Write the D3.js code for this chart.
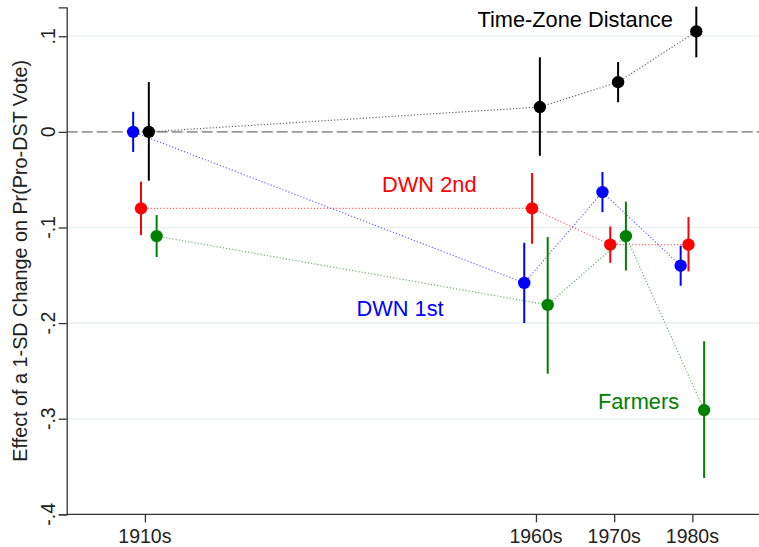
<!DOCTYPE html>
<html>
<head>
<meta charset="utf-8">
<script src="https://cdn.jsdelivr.net/npm/d3@7"></script>
<style>
  body { margin: 0; background: #fff; }
  svg { display: block; font-family: "Liberation Sans", Arial, Helvetica, sans-serif; }
</style>
</head>
<body>
<svg id="chart" width="759" height="547"></svg>
<script>
// decades on the x axis
const decades = [1910, 1960, 1970, 1980];
const decadeLabels = ["1910s", "1960s", "1970s", "1980s"];
const yTicks = [0.1, 0, -0.1, -0.2, -0.3, -0.4];
const yTickLabels = [".1", "0", "-.1", "-.2", "-.3", "-.4"];

// estimates and 95% bounds
const dwn1Est = [0, -0.158, -0.063, -0.140];
const dwn1Lo  = [-0.021, -0.200, -0.084, -0.161];
const dwn1Hi  = [0.021, -0.116, -0.042, -0.119];

const dwn2Est = [-0.080, -0.080, -0.118, -0.118];
const dwn2Lo  = [-0.108, -0.117, -0.137, -0.146];
const dwn2Hi  = [-0.052, -0.043, -0.099, -0.089];

const tzdEst = [0, 0.026, 0.052, 0.105];
const tzdLo  = [-0.051, -0.025, 0.031, 0.078];
const tzdHi  = [0.052, 0.078, 0.073, 0.131];

const farmEst = [-0.109, -0.181, -0.109, -0.291];
const farmLo  = [-0.131, -0.253, -0.145, -0.362];
const farmHi  = [-0.087, -0.110, -0.073, -0.219];

// series names, colours, horizontal offsets (years) and label anchors
const seriesNames = ["DWN 1st", "DWN 2nd", "Time-Zone Distance", "Farmers"];
const seriesColors = ["#0000ff", "#ff0000", "#000000", "#008000"];
const seriesOffsets = [-1.5, -0.5, 0.5, 1.5];
const labelYear = [1948.2, 1952.4, 1977.5, 1978.3];
const labelValue = [-0.1925, -0.0624, 0.1098, -0.2894];

const ests = [dwn1Est, dwn2Est, tzdEst, farmEst];
const los = [dwn1Lo, dwn2Lo, tzdLo, farmLo];
const his = [dwn1Hi, dwn2Hi, tzdHi, farmHi];

const svg = d3.select('#chart');
const width = +svg.attr('width'), height = +svg.attr('height');

const x = d3.scaleLinear().domain([1900, 1990]).range([66.7, 770.6]);
const y = d3.scaleLinear().domain([-0.4, 0.1303]).range([514.3, 7.3]);

svg.append('rect').attr('width', width).attr('height', height).attr('fill', '#fff');

// grid
svg.append('g').selectAll('line').data(yTicks.filter(d => d !== 0 && d !== -0.4)).enter()
  .append('line')
  .attr('x1', x(1900)).attr('x2', width)
  .attr('y1', d => y(d)).attr('y2', d => y(d))
  .attr('stroke', '#e8f0f2').attr('stroke-width', 1.5);

// zero reference line
svg.append('line')
  .attr('x1', x(1900)).attr('x2', width)
  .attr('y1', y(0)).attr('y2', y(0))
  .attr('stroke', '#999').attr('stroke-width', 1.6)
  .attr('stroke-dasharray', '11,4');

// axes
const yAxis = d3.axisLeft(y).tickValues(yTicks).tickSize(8).tickFormat('');
const gy = svg.append('g').attr('transform', `translate(${x(1900)},0)`).call(yAxis);
const xAxis = d3.axisBottom(x).tickValues(decades).tickSize(8).tickFormat('');
const gx = svg.append('g').attr('transform', `translate(0,${y(-0.4)})`).call(xAxis);
[gy, gx].forEach(g => {
  g.select('.domain').attr('stroke', '#333').attr('stroke-width', 1.3);
  g.selectAll('.tick line').attr('stroke', '#333').attr('stroke-width', 1.3);
});
gx.select('.domain').attr('d', `M${x(1900)},0H${width}`);

svg.append('g').selectAll('text').data(yTicks).enter().append('text')
  .attr('transform', d => `translate(55,${y(d)}) rotate(-90)`)
  .attr('text-anchor', 'middle')
  .attr('font-size', 19.5).attr('fill', '#222')
  .text((d, i) => yTickLabels[i]);

svg.append('g').selectAll('text').data(decades).enter().append('text')
  .attr('x', d => x(d)).attr('y', 543)
  .attr('text-anchor', 'middle')
  .attr('font-size', 19.5).attr('fill', '#222')
  .text((d, i) => decadeLabels[i]);

svg.append('text')
  .attr('transform', `translate(27.3,${(y(0.1303) + y(-0.4)) / 2}) rotate(-90)`)
  .attr('text-anchor', 'middle')
  .attr('font-size', 19.8).attr('fill', '#222')
  .text('Effect of a 1-SD Change on Pr(Pro-DST Vote)');

// series
const line = d3.line().x(d => x(d[0])).y(d => y(d[1]));

seriesNames.forEach((name, s) => {
  const pts = decades.map((d, i) => [d + seriesOffsets[s], ests[s][i], los[s][i], his[s][i]]);
  const g = svg.append('g');

  g.append('path').datum(pts)
    .attr('d', line)
    .attr('fill', 'none')
    .attr('stroke', seriesColors[s])
    .attr('stroke-opacity', 0.6)
    .attr('stroke-width', 1.2)
    .attr('stroke-dasharray', '1.2,2');

  g.selectAll('.ci').data(pts).enter().append('line')
    .attr('x1', d => x(d[0])).attr('x2', d => x(d[0]))
    .attr('y1', d => y(d[2])).attr('y2', d => y(d[3]))
    .attr('stroke', seriesColors[s]).attr('stroke-width', 2);

  g.selectAll('circle').data(pts).enter().append('circle')
    .attr('cx', d => x(d[0])).attr('cy', d => y(d[1]))
    .attr('r', 6.2).attr('fill', seriesColors[s]);

  svg.append('text')
    .attr('x', x(labelYear[s])).attr('y', y(labelValue[s]))
    .attr('text-anchor', 'end')
    .attr('font-size', 21.8)
    .attr('fill', seriesColors[s])
    .text(name);
});
</script>
</body>
</html>
